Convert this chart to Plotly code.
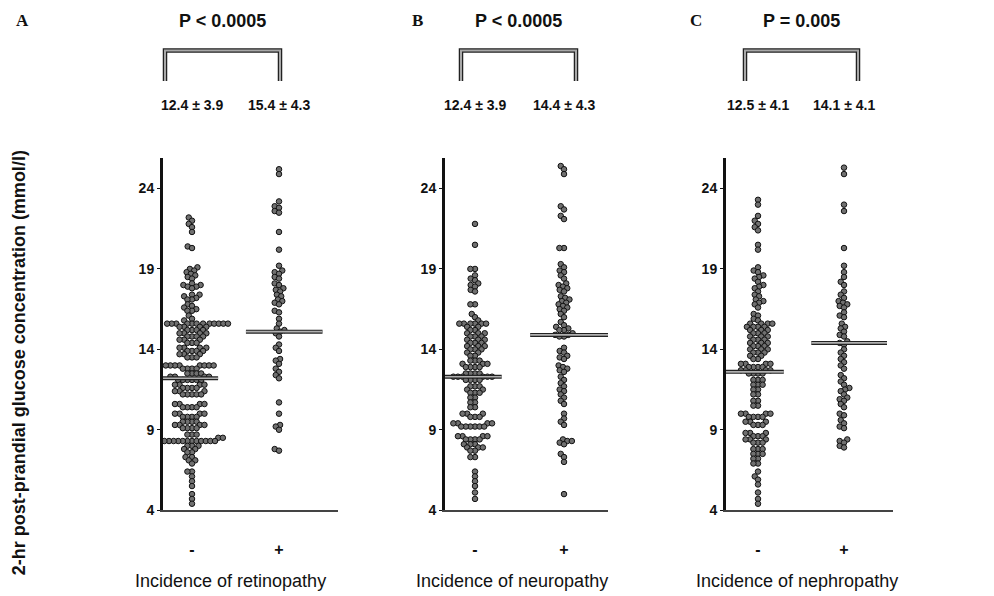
import numpy as np
import plotly.graph_objects as go

# ---------------- data ----------------
panel_letters = ["A", "B", "C"]
p_texts = ["P < 0.0005", "P < 0.0005", "P = 0.005"]
stat_minus = ["12.4 ± 3.9", "12.4 ± 3.9", "12.5 ± 4.1"]
stat_plus = ["15.4 ± 4.3", "14.4 ± 4.3", "14.1 ± 4.1"]
x_titles = ["Incidence of retinopathy", "Incidence of neuropathy", "Incidence of nephropathy"]
categories = ["-", "+"]
y_ticks = [4, 9, 14, 19, 24]
y_title = "2-hr post-prandial glucose concentration (mmol/l)"
center_minus = [12.2, 12.3, 12.6]
center_plus = [15.1, 14.9, 14.4]

A_minus = [22.2, 22.0, 21.8, 21.6, 21.3, 20.4, 20.3,
           19.1, 19.0, 18.9, 18.8, 18.7, 18.6, 18.5, 18.4,
           18.1, 18.0, 18.0, 17.9, 17.9, 17.8,
           17.4, 17.4, 17.3, 17.2, 17.1, 17.1,
           16.8, 16.7, 16.6, 16.5, 16.4, 16.4, 16.1, 15.9, 15.8,
           15.6, 15.6, 15.6, 15.6, 15.6, 15.6, 15.6, 15.6, 15.6, 15.6, 15.6, 15.6, 15.6, 15.6,
           15.4, 15.4, 15.4, 15.4, 15.2, 15.2, 15.2, 15.2,
           15.0, 15.0, 15.0, 15.0, 14.8, 14.8, 14.8, 14.8, 14.6, 14.6, 14.6, 14.4, 14.4, 14.4,
           14.1, 14.1, 14.1, 14.1, 13.9, 13.9, 13.9, 13.9, 13.7, 13.7, 13.7, 13.5, 13.5, 13.5,
           13.0, 13.0, 13.0, 13.0, 13.0, 13.0, 13.0, 13.0, 12.8, 12.8, 12.8, 12.8,
           12.5, 12.5, 12.5, 12.5, 12.3, 12.3, 12.3, 12.3, 12.1, 12.1, 12.1, 12.1, 12.1, 12.1,
           11.8, 11.8, 11.8, 11.8, 11.6, 11.6, 11.6, 11.6, 11.4, 11.4, 11.4,
           11.2, 11.2, 11.2, 11.2, 11.2,
           10.6, 10.6, 10.6, 10.6, 10.4, 10.4, 10.4, 10.4,
           10.0, 10.0, 10.0, 10.0, 9.8, 9.8, 9.8, 9.8,
           9.5, 9.5, 9.5, 9.5, 9.3, 9.3, 9.3, 9.3, 9.1, 9.1, 9.1, 9.1,
           8.7, 8.7, 8.7, 8.5, 8.5, 8.5,
           8.3, 8.3, 8.3, 8.3, 8.3, 8.3, 8.3, 8.3, 8.3, 8.3, 8.3, 8.3,
           8.0, 8.0, 8.0, 7.8, 7.8, 7.6, 7.6, 7.3, 7.3, 7.1, 7.1, 6.9,
           6.4, 6.4, 6.1, 5.8, 5.5, 5.0, 4.7, 4.4]
A_plus = [25.2, 24.9, 23.2, 22.9, 22.8, 22.6, 22.5, 21.3, 20.2, 19.2,
          18.9, 18.8, 18.7, 18.5, 18.4, 18.1, 18.0, 17.8, 17.7, 17.6,
          17.4, 17.3, 17.1, 17.0, 16.9, 16.8, 16.4, 16.3, 15.9, 15.6,
          15.3, 15.2, 15.1, 15.0, 14.8, 14.3, 14.1, 13.9, 13.4, 13.3,
          13.1, 12.8, 12.6, 12.4, 12.2, 10.7, 10.0, 9.3, 9.2, 9.0, 7.8, 7.7]
B_minus = [21.8, 20.5, 19.0, 19.0,
           18.6, 18.4, 18.3, 18.1, 18.0, 17.9, 17.7, 17.6, 16.8, 16.8,
           16.2, 16.0, 15.8,
           15.6, 15.6, 15.6, 15.6, 15.6, 15.6, 15.4, 15.4, 15.2, 15.2,
           15.0, 15.0, 15.0, 14.8, 14.8, 14.8, 14.6, 14.6, 14.6, 14.4, 14.4, 14.4,
           14.2, 14.2, 14.2, 14.0, 14.0, 14.0, 13.8, 13.8, 13.6, 13.6,
           13.3, 13.3, 13.3, 13.1, 13.1, 13.1, 12.9, 12.9, 12.9, 12.9,
           12.5, 12.5, 12.5, 12.5, 12.3, 12.3, 12.3, 12.3, 12.3, 12.3, 12.1, 12.1, 12.1, 12.1,
           11.7, 11.7, 11.7, 11.5, 11.5, 11.3, 11.3, 11.3,
           11.0, 11.0, 10.7, 10.7, 10.4, 10.4,
           10.0, 10.0, 10.0, 9.8, 9.8, 9.8,
           9.4, 9.4, 9.4, 9.4, 9.2, 9.2, 9.2, 9.2, 9.2, 9.2,
           8.6, 8.6, 8.6, 8.6, 8.4, 8.4, 8.4, 8.4,
           8.1, 8.1, 8.1, 7.9, 7.9, 7.9, 7.7, 7.7, 7.3, 7.3,
           6.4, 6.1, 5.8, 5.5, 5.1, 4.7]
B_plus = [25.4, 25.2, 24.9, 22.9, 22.7, 22.3, 22.1, 20.3, 20.3,
          19.3, 19.1, 18.9, 18.8, 18.6, 18.4, 18.1, 18.0, 17.9, 17.8, 17.7, 17.6,
          17.3, 17.2, 17.1, 17.0, 16.9, 16.8, 16.7, 16.6, 16.5, 16.4,
          16.2, 16.0, 15.7, 15.5, 15.4, 15.3, 15.2, 15.2,
          15.0, 14.9, 14.9, 14.8, 14.8,
          14.1, 13.9, 13.8, 13.6, 13.5, 13.4,
          13.0, 12.9, 12.8, 12.7, 12.6,
          12.3, 12.1, 11.9, 11.7, 11.5, 11.4,
          11.2, 11.0, 10.8, 10.6, 10.0, 9.7, 9.5, 9.3,
          8.4, 8.3, 8.3, 8.2, 8.1, 7.5, 7.3, 7.0, 5.0]
C_minus = [23.3, 23.0, 22.3, 22.0, 21.8, 21.6, 21.4, 20.5, 20.2,
           19.1, 18.9, 18.8, 18.6, 18.5, 18.4, 18.2, 18.0, 17.9, 17.8,
           17.6, 17.4, 17.3, 17.1, 17.0, 16.9, 16.8, 16.6,
           16.2, 16.1, 15.9, 15.8,
           15.6, 15.6, 15.6, 15.6, 15.4, 15.4, 15.4, 15.4, 15.2, 15.2, 15.2, 15.0, 15.0, 15.0,
           14.8, 14.8, 14.8, 14.6, 14.6, 14.6, 14.4, 14.4, 14.4, 14.2, 14.2, 14.2,
           14.0, 14.0, 14.0, 13.8, 13.8, 13.8, 13.6, 13.6, 13.4, 13.4,
           13.1, 13.1, 13.1, 13.1, 12.9, 12.9, 12.9, 12.9, 12.7, 12.7, 12.7, 12.7,
           12.5, 12.5, 12.5, 12.5,
           12.1, 12.1, 12.1, 11.8, 11.8, 11.8, 11.5, 11.5, 11.2, 11.2,
           10.8, 10.8, 10.5, 10.5,
           10.0, 10.0, 10.0, 10.0, 9.8, 9.8, 9.8, 9.8, 9.5, 9.5, 9.5, 9.3, 9.3, 9.3,
           8.8, 8.8, 8.8, 8.6, 8.6, 8.6, 8.4, 8.4, 8.4, 8.2, 8.2, 8.2,
           7.8, 7.8, 7.8, 7.5, 7.5, 7.5, 7.2, 7.2, 6.9, 6.9,
           6.4, 6.1, 5.9, 5.6, 5.1, 4.7, 4.4]
C_plus = [25.3, 24.9, 23.0, 22.6, 20.3,
          19.2, 18.8, 18.5, 18.2, 18.0,
          17.6, 17.4, 17.2, 17.0, 16.9, 16.8, 16.7, 16.6,
          16.3, 16.1, 16.0, 15.6, 15.4, 15.3, 15.1, 14.9, 14.8,
          14.5, 14.4, 14.3, 14.0, 13.8, 13.6, 13.4, 13.2, 13.0, 12.8,
          12.4, 12.2, 12.0, 11.8, 11.6, 11.5, 11.4,
          11.2, 11.0, 10.9, 10.8, 10.6, 10.4,
          10.0, 9.9, 9.6, 9.4, 9.2, 9.1,
          8.4, 8.3, 8.2, 8.0, 7.9]

groups = [(A_minus, A_plus), (B_minus, B_plus), (C_minus, C_plus)]

# ---------------- layout geometry (pixels) ----------------
W, H = 994, 596
axis_px = [(155, 330), (437, 600), (718, 885)]       # y-axis x, x-axis right end
group_px = [(184, 271), (467, 556), (750, 836)]      # centres of '-' and '+'
bracket_px = [(157, 272), (453, 568), (737, 850)]
title_px = [222, 504, 789]
letter_x = [14, 409, 688]
y_top_px, y_bot_px, y24_px = 152, 509, 183
y_range = [4, 4 + (y_bot_px - y_top_px) * 20 / (y_bot_px - y24_px)]
DOT = 5.5
MIN_DIST = 4.6
line_ext = [(-0.40, 0.30), (-0.38, 0.50)]   # mean-line extent around '-' and '+'


def swarm(vals, sx, sy, d):
    """Beeswarm offsets (data units) from values; sx, sy are px per unit."""
    vals = np.asarray(vals, dtype=float)
    order = np.argsort(vals, kind="stable")
    placed = []
    xs = np.zeros(len(vals))
    for i in order:
        y = vals[i] * sy
        near = [(px, py) for (px, py) in placed if abs(py - y) < d]
        cands = [0.0]
        for px, py in near:
            dx = np.sqrt(d * d - (py - y) ** 2)
            cands += [px + dx, px - dx]
        cands.sort(key=lambda c: (abs(c), c))
        chosen = cands[-1]
        for c in cands:
            if all((c - px) ** 2 + (y - py) ** 2 >= d * d - 1e-6 for px, py in near):
                chosen = c
                break
        placed.append((chosen, y))
        xs[i] = chosen / sx
    return xs


def fx(p):
    return p / W


def fy(p):
    return 1 - p / H


fig = go.Figure()
sy = (y_bot_px - y_top_px) / (y_range[1] - y_range[0])
font_sans = "Liberation Sans, Arial, sans-serif"
ink = "#111111"
annotations = []
shapes = []


def txt(x, y, text, size, xref="paper", family=font_sans, **kw):
    annotations.append(dict(xref=xref, yref="paper", x=x, y=y, text=text, showarrow=False,
                            xanchor="center", yanchor="middle",
                            font=dict(size=size, family=family, color=ink), **kw))


for k in range(3):
    xa = "x" if k == 0 else f"x{k+1}"
    ya = "y" if k == 0 else f"y{k+1}"
    ax0, ax1 = axis_px[k]
    g0, g1 = group_px[k]
    unit = g1 - g0
    x_range = [-(g0 - ax0) / unit, 1 + (ax1 - g1) / unit]
    for g, vals in enumerate(groups[k]):
        offs = swarm(vals, unit, sy, MIN_DIST)
        fig.add_trace(go.Scatter(
            x=g + offs, y=vals, mode="markers", xaxis=xa, yaxis=ya, cliponaxis=False,
            marker=dict(size=DOT, color="#707070", line=dict(color="#111111", width=1)),
            showlegend=False, hoverinfo="y"))
    # mean lines
    for g, c in enumerate([center_minus[k], center_plus[k]]):
        lo, hi = line_ext[g]
        for col, wd in [("#222222", 4), ("#b0b0b0", 1.6)]:
            shapes.append(dict(type="line", xref=xa, yref=ya, x0=g + lo, x1=g + hi,
                               y0=c, y1=c, line=dict(color=col, width=wd), layer="above"))
    # bracket
    b0, b1 = bracket_px[k]
    path = (f"M {fx(b0)},{fy(74)} L {fx(b0)},{fy(43)} "
            f"L {fx(b1)},{fy(43)} L {fx(b1)},{fy(74)}")
    for col, wd in [("#222222", 4.5), ("#a8a8a8", 2)]:
        shapes.append(dict(type="path", xref="paper", yref="paper", path=path,
                           line=dict(color=col, width=wd)))
    # texts
    txt(fx((b0 + b1) / 2), fy(13), f"<b>{p_texts[k]}</b>", 18)
    txt(0, fy(98), f"<b>{stat_minus[k]}</b>", 14, xref=xa)
    txt(1, fy(98), f"<b>{stat_plus[k]}</b>", 14, xref=xa)
    txt(fx(title_px[k]), fy(581), x_titles[k], 18)
    txt(fx(letter_x[k]), fy(13), f"<b>{panel_letters[k]}</b>", 17,
        family="Liberation Serif, Times New Roman, serif")

    fig.update_layout(**{
        ("xaxis" if k == 0 else f"xaxis{k+1}"): dict(
            domain=[fx(ax0), fx(ax1)], range=x_range, anchor=ya,
            showline=True, linecolor="#444444", linewidth=2,
            tickvals=[0, 1], ticktext=[f"<b>{c}</b>" for c in categories], ticks="",
            showgrid=False, zeroline=False,
            tickfont=dict(size=16, family=font_sans, color=ink), ticklabelstandoff=24,
            fixedrange=True),
        ("yaxis" if k == 0 else f"yaxis{k+1}"): dict(
            domain=[fy(y_bot_px), fy(y_top_px)], range=y_range, anchor=xa,
            showline=True, linecolor="#111111", linewidth=3,
            tickvals=y_ticks, ticktext=[f"<b>{t}</b>" for t in y_ticks],
            ticks="outside", ticklen=3, tickwidth=1, tickcolor=ink,
            showgrid=False, zeroline=False,
            tickfont=dict(size=14, family=font_sans, color=ink), fixedrange=True),
    })

txt(fx(11), fy(360), f"<b>{y_title}</b>", 18, textangle=-90)

fig.update_layout(width=W, height=H, margin=dict(l=0, r=0, t=0, b=0),
                  paper_bgcolor="white", plot_bgcolor="white",
                  annotations=annotations, shapes=shapes, showlegend=False)

fig.write_html("out.html")
